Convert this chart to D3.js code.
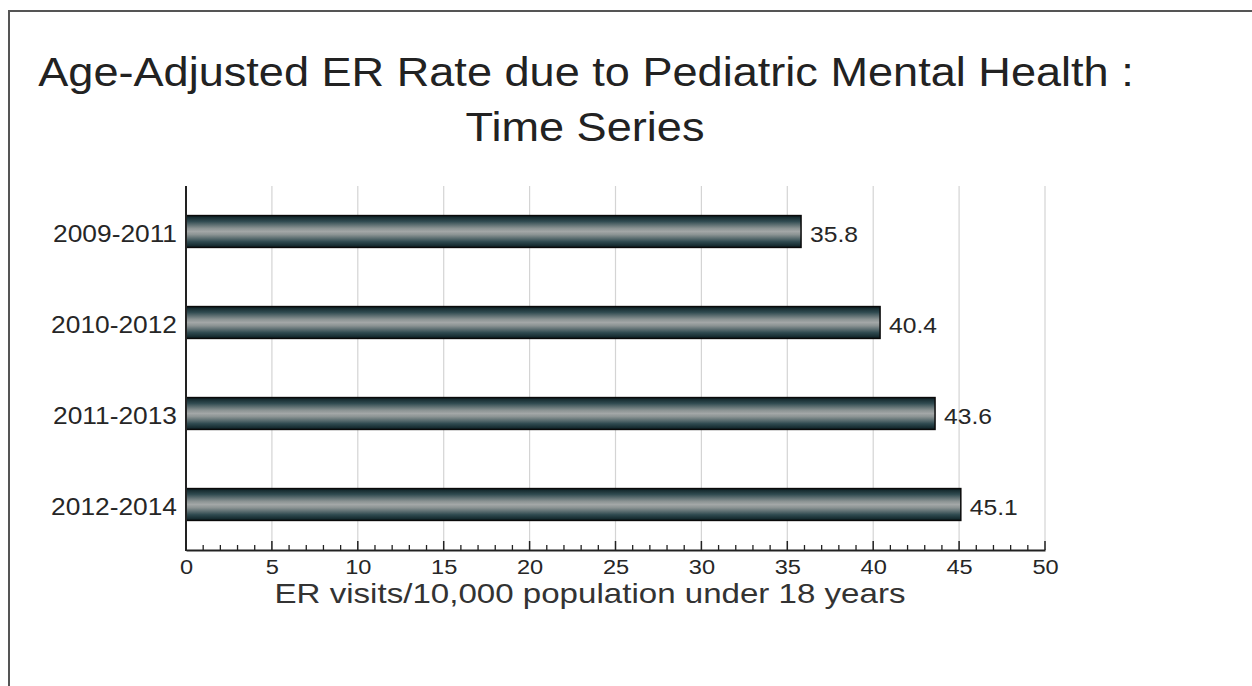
<!DOCTYPE html>
<html><head><meta charset="utf-8">
<script src="https://cdn.jsdelivr.net/npm/d3@7"></script>
<style>html,body{margin:0;padding:0;background:#fff;overflow:hidden}</style>
</head><body><svg id="c" width="1252" height="686"></svg>
<script>
const categories = ["2009-2011", "2010-2012", "2011-2013", "2012-2014"];
const values = [35.8, 40.4, 43.6, 45.1];
const valueLabels = ["35.8", "40.4", "43.6", "45.1"];
const xTicks = [0, 5, 10, 15, 20, 25, 30, 35, 40, 45, 50];
const titleLines = ["Age-Adjusted ER Rate due to Pediatric Mental Health :", "Time Series"];
const xTitle = "ER visits/10,000 population under 18 years";

const svg = d3.select("#c");
const font = "Liberation Sans, Arial, sans-serif";
const txt = "#262626";

function stretch(sel, f) {
  sel.each(function () {
    const L = this.getComputedTextLength();
    d3.select(this).attr("textLength", L * f).attr("lengthAdjust", "spacingAndGlyphs");
  });
}

// frame
svg.append("rect").attr("x", 9).attr("y", 11).attr("width", 1300).attr("height", 700)
  .attr("fill", "none").attr("stroke", "#555").attr("stroke-width", 2);

const x = d3.scaleLinear().domain([0, 50]).range([186, 1045]);
const y = d3.scaleBand().domain(categories).range([186, 550]).paddingInner(0.65).paddingOuter(0.325);

// gradient
const defs = svg.append("defs");
const g = defs.append("linearGradient").attr("id", "barg").attr("x1", 0).attr("y1", 0).attr("x2", 0).attr("y2", 1);
[[0, "#0c1f23"], [0.18, "#2f4a50"], [0.4, "#8b9393"], [0.5, "#a3a7a7"], [0.6, "#8b9393"], [0.82, "#2f4a50"], [1, "#0c1f23"]]
  .forEach(([o, c]) => g.append("stop").attr("offset", o).attr("stop-color", c));

// grid lines
svg.append("g").selectAll("line").data(xTicks.filter(d => d > 0)).join("line")
  .attr("x1", d => x(d)).attr("x2", d => x(d)).attr("y1", 186).attr("y2", 550)
  .attr("stroke", "#d4d4d4").attr("stroke-width", 1.2);

// bars
svg.append("g").selectAll("rect").data(values).join("rect")
  .attr("x", x(0)).attr("y", (d, i) => y(categories[i]))
  .attr("width", d => x(d) - x(0)).attr("height", y.bandwidth())
  .attr("fill", "url(#barg)").attr("stroke", "#0a0a0a").attr("stroke-width", 1.5);

// value labels
const vl = svg.append("g").selectAll("text").data(values).join("text")
  .attr("x", d => x(d) + 9).attr("y", (d, i) => y(categories[i]) + y.bandwidth() / 2 + 10)
  .attr("font-family", font).attr("font-size", 22).attr("fill", txt)
  .text((d, i) => valueLabels[i]);
stretch(vl, 1.12);

// category labels
const cl = svg.append("g").selectAll("text").data(categories).join("text")
  .attr("x", 177).attr("y", d => y(d) + y.bandwidth() / 2 + 10)
  .attr("text-anchor", "end").attr("font-family", font).attr("font-size", 23.5).attr("fill", txt)
  .text(d => d);
stretch(cl, 1.12);

// axes lines
svg.append("line").attr("x1", x(0)).attr("x2", x(0)).attr("y1", 186).attr("y2", 551)
  .attr("stroke", "#222").attr("stroke-width", 2);
const xAxis = d3.axisBottom(x).tickValues(xTicks).tickSize(0).tickPadding(10).tickFormat(d3.format("d"));
const ax = svg.append("g").attr("transform", "translate(0,550)").call(xAxis);
ax.select(".domain").attr("stroke", "#222").attr("stroke-width", 2);
ax.selectAll("text").attr("font-family", font).attr("font-size", 20).attr("fill", txt);
stretch(ax.selectAll("text"), 1.18);
// major ticks (upward)
svg.append("g").selectAll("line").data(xTicks).join("line")
  .attr("x1", d => x(d)).attr("x2", d => x(d)).attr("y1", 550).attr("y2", 541)
  .attr("stroke", "#222").attr("stroke-width", 1.5);
// minor ticks
const minor = d3.range(0, 51).filter(d => d % 5 !== 0);
svg.append("g").selectAll("line").data(minor).join("line")
  .attr("x1", d => x(d)).attr("x2", d => x(d)).attr("y1", 550).attr("y2", 545)
  .attr("stroke", "#222").attr("stroke-width", 1.3);

// axis title
svg.append("text").attr("x", 590).attr("y", 603).attr("text-anchor", "middle")
  .attr("font-family", font).attr("font-size", 28).attr("fill", "#333")
  .attr("textLength", 631).attr("lengthAdjust", "spacingAndGlyphs").text(xTitle);

// title
const t1 = svg.append("text").attr("x", 586).attr("y", 86).attr("text-anchor", "middle")
  .attr("font-family", font).attr("font-size", 41).attr("fill", "#222").text(titleLines[0]);
stretch(t1, 1.1);
const t2 = svg.append("text").attr("x", 585).attr("y", 141).attr("text-anchor", "middle")
  .attr("font-family", font).attr("font-size", 41).attr("fill", "#222").text(titleLines[1]);
stretch(t2, 1.1);
</script></body></html>
